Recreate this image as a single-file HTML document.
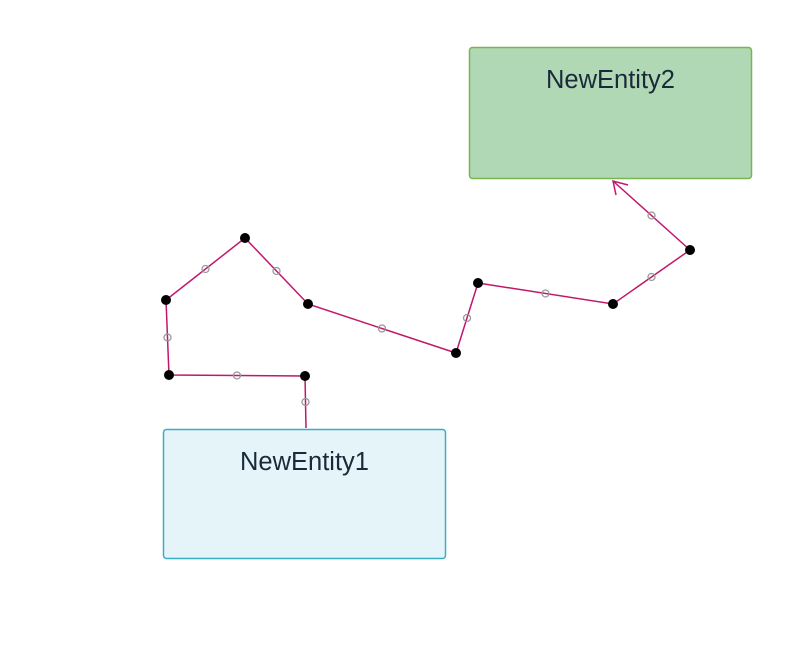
<!DOCTYPE html>
<html><head><meta charset="utf-8"><style>
html,body{margin:0;padding:0;background:#fff;width:799px;height:665px;overflow:hidden}
</style></head><body>
<svg width="799" height="665" viewBox="0 0 799 665" xmlns="http://www.w3.org/2000/svg">
<rect x="469.5" y="47.5" width="282" height="131" rx="3" fill="#b1d8b4" stroke="#78b64f" stroke-width="1.5"/>
<text x="610.5" y="88" font-family="Liberation Sans, sans-serif" font-size="25.5" fill="#1a2a3a" text-anchor="middle">NewEntity2</text>
<rect x="163.5" y="429.5" width="282" height="129" rx="3" fill="#e5f4f9" stroke="#3aaec2" stroke-width="1.5"/>
<text x="304.5" y="470" font-family="Liberation Sans, sans-serif" font-size="25.5" fill="#1a2a3a" text-anchor="middle">NewEntity1</text>
<polyline points="306,428 305,376 169,375 166,300 245,238 308,304 456,353 478,283 613,304 690,250 613,181" fill="none" stroke="#c0186b" stroke-width="1.5"/>
<polyline points="616,195 613,181 628,185" fill="none" stroke="#c0186b" stroke-width="1.5"/>
<g fill="none" stroke="#999" stroke-width="1.3">
<circle cx="305.5" cy="402" r="3.5"/><circle cx="237" cy="375.5" r="3.5"/><circle cx="167.5" cy="337.5" r="3.5"/>
<circle cx="205.5" cy="269" r="3.5"/><circle cx="276.5" cy="271" r="3.5"/><circle cx="382" cy="328.5" r="3.5"/>
<circle cx="467" cy="318" r="3.5"/><circle cx="545.5" cy="293.5" r="3.5"/><circle cx="651.5" cy="277" r="3.5"/>
<circle cx="651.5" cy="215.5" r="3.5"/>
</g>
<g fill="#000">
<circle cx="305" cy="376" r="5"/><circle cx="169" cy="375" r="5"/><circle cx="166" cy="300" r="5"/>
<circle cx="245" cy="238" r="5"/><circle cx="308" cy="304" r="5"/><circle cx="456" cy="353" r="5"/>
<circle cx="478" cy="283" r="5"/><circle cx="613" cy="304" r="5"/><circle cx="690" cy="250" r="5"/>
</g>
</svg>
</body></html>
